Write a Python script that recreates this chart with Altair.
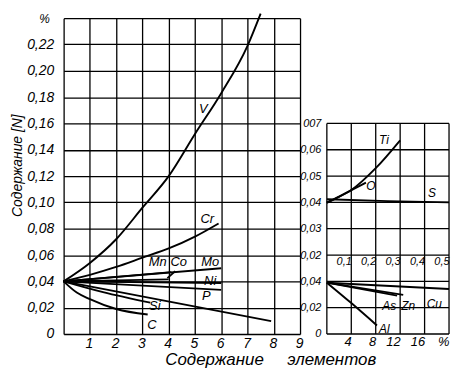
import altair as alt
import pandas as pd

FONT = "Liberation Sans"

# ---------------- left panel: N content vs element content (0-9 %) ----------------
V_x = [0, 1, 2, 3, 4, 5, 6, 7, 7.5]
V_y = [0.040, 0.054, 0.072, 0.096, 0.120, 0.152, 0.183, 0.219, 0.2435]
Cr_x = [0, 1, 2, 3, 4, 5, 5.9]
Cr_y = [0.040, 0.045, 0.051, 0.058, 0.065, 0.074, 0.084]
Mn_x = [0, 4.1]
Mn_y = [0.040, 0.047]
Co_x = [0, 4.0]
Co_y = [0.040, 0.0415]
Co_lead_x = [4.25, 3.95]
Co_lead_y = [0.0478, 0.0425]
Mo_x = [0, 6.0]
Mo_y = [0.040, 0.050]
Ni_x = [0, 6.0]
Ni_y = [0.040, 0.0388]
P_x = [0, 6.0]
P_y = [0.040, 0.0335]
Lin_x = [0, 7.9]
Lin_y = [0.040, 0.0098]
Si_x = [0, 1.5, 3.3]
Si_y = [0.040, 0.0318, 0.0238]
C_x = [0, 0.5, 1, 2, 3.2]
C_y = [0.040, 0.0315, 0.0265, 0.019, 0.0148]

left_lab_t = ["V", "Cr", "Mn", "Co", "Mo", "Ni", "P", "Si", "C"]
left_lab_x = [5.32, 5.47, 3.58, 4.38, 5.58, 5.58, 5.43, 3.47, 3.36]
left_lab_y = [0.1706, 0.0876, 0.0545, 0.0545, 0.0550, 0.0405, 0.0287, 0.0211, 0.0068]

left_x_ticks = [0, 1, 2, 3, 4, 5, 6, 7, 8, 9]
left_y_ticks = [0, 0.02, 0.04, 0.06, 0.08, 0.10, 0.12, 0.14, 0.16, 0.18, 0.20, 0.22, 0.24]
pct_x = [0]
pct_y = [0.24]
pct_t = ["%"]

# ---------------- right panel, upper part (0-0.5 %) ----------------
Ti_x = [0, 0.05, 0.1, 0.2, 0.3]
Ti_y = [0.040, 0.0421, 0.0447, 0.053, 0.0636]
O_x = [0, 0.16]
O_y = [0.0398, 0.0475]
S_x = [0, 0.25, 0.5]
S_y = [0.0412, 0.0405, 0.0400]
rt_lab_t = ["Ti", "O", "S"]
rt_lab_x = [0.234, 0.18, 0.43]
rt_lab_y = [0.0636, 0.0462, 0.0436]
rt_x_grid = [0, 0.1, 0.2, 0.3, 0.4, 0.5]
rt_y_grid = [-0.01, 0, 0.01, 0.02, 0.03, 0.04, 0.05, 0.06, 0.07]
rt_y_labels = [0.02, 0.03, 0.04, 0.05, 0.06, 0.07]
rt_x_labels = [0.1, 0.2, 0.3, 0.4, 0.5]

# ---------------- right panel, lower part (0-20 %) ----------------
Al_x = [0, 4, 8.2]
Al_y = [0.039, 0.0235, 0.0065]
As_x = [0, 11.5]
As_y = [0.039, 0.0292]
Zn_x = [0, 12.5]
Zn_y = [0.039, 0.0297]
Cu_x = [0, 20]
Cu_y = [0.039, 0.0342]
rb_lab_t = ["Al", "As", "Zn", "Cu"]
rb_lab_x = [9.4, 10.2, 13.3, 17.6]
rb_lab_y = [0.0038, 0.0211, 0.0211, 0.0226]
rb_y_labels = [0, 0.02, 0.04]
rb_x_labels = [4, 8, 12, 16, 20]


def lines_df(series):
    rows = []
    for name, xs, ys in series:
        for i, (xv, yv) in enumerate(zip(xs, ys)):
            rows.append({"el": name, "i": i, "x": xv, "y": yv})
    return pd.DataFrame(rows)


left_df = lines_df([
    ("V", V_x, V_y), ("Cr", Cr_x, Cr_y), ("Mn", Mn_x, Mn_y), ("Co", Co_x, Co_y),
    ("CoLead", Co_lead_x, Co_lead_y), ("Mo", Mo_x, Mo_y), ("Ni", Ni_x, Ni_y),
    ("P", P_x, P_y), ("Lin", Lin_x, Lin_y), ("Si", Si_x, Si_y), ("C", C_x, C_y),
])
left_lab_df = pd.DataFrame({"x": left_lab_x, "y": left_lab_y, "t": left_lab_t})
pct_df = pd.DataFrame({"x": pct_x, "y": pct_y, "t": pct_t})

rt_df = lines_df([("Ti", Ti_x, Ti_y), ("O", O_x, O_y), ("S", S_x, S_y)])
rt_lab_df = pd.DataFrame({"x": rt_lab_x, "y": rt_lab_y, "t": rt_lab_t})
rt_vgrid_df = pd.DataFrame({"x": rt_x_grid, "y": [rt_y_grid[0]] * len(rt_x_grid),
                            "y1": [rt_y_grid[-1]] * len(rt_x_grid)})
rt_hgrid_df = pd.DataFrame({"y": rt_y_grid, "x": [rt_x_grid[0]] * len(rt_y_grid),
                            "x1": [rt_x_grid[-1]] * len(rt_y_grid)})

rb_df = lines_df([("Al", Al_x, Al_y), ("As", As_x, As_y), ("Zn", Zn_x, Zn_y), ("Cu", Cu_x, Cu_y)])
rb_lab_df = pd.DataFrame({"x": rb_lab_x, "y": rb_lab_y, "t": rb_lab_t})

L_X = alt.Scale(domain=[0, 9], nice=False, zero=False)
L_Y = alt.Scale(domain=[0, 0.24], nice=False, zero=False)
RT_X = alt.Scale(domain=[0, 0.5], nice=False, zero=False)
RT_Y = alt.Scale(domain=[-0.01, 0.11], nice=False, zero=False)
RB_X = alt.Scale(domain=[0, 20], nice=False, zero=False)
RB_Y = alt.Scale(domain=[0, 0.24], nice=False, zero=False)

common_lab = dict(labelFont=FONT, labelFontStyle="italic", labelColor="black",
                  labelFlush=False, labelOverlap=False, ticks=False, domain=False)
grid_style = dict(grid=True, gridColor="black", gridWidth=1.3, gridOpacity=1)

left_x_axis = alt.Axis(values=left_x_ticks, **grid_style, **common_lab,
                       labelFontSize=14, labelPadding=3, labelOffset=-1,
                       labelExpr="datum.value == 0 ? '' : datum.label",
                       title="Содержание\u00a0\u00a0\u00a0\u00a0\u00a0элементов",
                       titleX=208, titleY=26, titleBaseline="middle", titleAlign="center",
                       titleFont=FONT, titleFontStyle="italic", titleFontWeight="normal",
                       titleFontSize=17, titleColor="black")
left_y_axis = alt.Axis(values=left_y_ticks, **grid_style, **common_lab,
                       labelFontSize=14, labelPadding=10,
                       labelExpr="datum.value > 0.23 ? '' : (datum.value == 0 ? '0' : replace(format(datum.value, '.2f'), '.', ','))",
                       title="Содержание [N]", titleX=-46, titleY=148, titleAngle=270,
                       titleBaseline="middle", titleAlign="center",
                       titleFont=FONT, titleFontStyle="italic", titleFontWeight="normal",
                       titleFontSize=14, titleColor="black")

LX = alt.X("x:Q", scale=L_X, axis=left_x_axis)
LY = alt.Y("y:Q", scale=L_Y, axis=left_y_axis)

left_lines = alt.Chart(left_df).mark_line(color="black", strokeWidth=1.9, interpolate="monotone").encode(
    x=LX, y=LY, detail="el:N", order="i:Q")
left_text = alt.Chart(left_lab_df).mark_text(font=FONT, fontStyle="italic", fontSize=13, color="black").encode(
    x=LX, y=LY, text="t:N")
pct_text = alt.Chart(pct_df).mark_text(font=FONT, fontStyle="italic", fontSize=12, color="black",
                                       align="right", baseline="middle", dx=-14, dy=1).encode(
    x=LX, y=LY, text="t:N")
left = alt.layer(left_lines, left_text, pct_text).properties(width=238, height=318)

rt_x_axis = alt.Axis(orient="bottom", offset=-79.5, values=rt_x_labels, grid=False, **common_lab,
                     labelFontSize=11, labelPadding=1, labelAlign="right",
                     labelExpr="replace(format(datum.value, '.1f'), '.', ',')", title=None)
rt_y_axis = alt.Axis(orient="left", values=rt_y_labels, grid=False, **common_lab,
                     labelFontSize=11, labelPadding=6,
                     labelExpr="datum.value > 0.065 ? '007' : replace(format(datum.value, '.2f'), '.', ',')",
                     title=None)
rb_x_axis = alt.Axis(orient="bottom", values=rb_x_labels, grid=False, **common_lab,
                     labelFontSize=13, labelPadding=2, labelAlign="right",
                     labelExpr="datum.value == 20 ? '%' : datum.label", title=None)
rb_y_axis = alt.Axis(orient="left", values=rb_y_labels, grid=False, **common_lab,
                     labelFontSize=11, labelPadding=6,
                     labelExpr="datum.value == 0 ? '0' : replace(format(datum.value, '.2f'), '.', ',')",
                     title=None)

RTX = alt.X("x:Q", scale=RT_X, axis=rt_x_axis)
RTY = alt.Y("y:Q", scale=RT_Y, axis=rt_y_axis)
RBX = alt.X("x:Q", scale=RB_X, axis=rb_x_axis)
RBY = alt.Y("y:Q", scale=RB_Y, axis=rb_y_axis)

rt_vgrid = alt.Chart(rt_vgrid_df).mark_rule(color="black", strokeWidth=1.3).encode(
    x=RTX, y=RTY, y2="y1:Q")
rt_hgrid = alt.Chart(rt_hgrid_df).mark_rule(color="black", strokeWidth=1.3).encode(
    x=RTX, x2="x1:Q", y=RTY)
rt_lines = alt.Chart(rt_df).mark_line(color="black", strokeWidth=1.9, interpolate="monotone").encode(
    x=RTX, y=RTY, detail="el:N", order="i:Q")
rt_text = alt.Chart(rt_lab_df).mark_text(font=FONT, fontStyle="italic", fontSize=12, color="black").encode(
    x=RTX, y=RTY, text="t:N")
top_layer = alt.layer(rt_vgrid, rt_hgrid, rt_lines, rt_text)

rb_lines = alt.Chart(rb_df).mark_line(color="black", strokeWidth=1.9, interpolate="monotone").encode(
    x=RBX, y=RBY, detail="el:N", order="i:Q")
rb_text = alt.Chart(rb_lab_df).mark_text(font=FONT, fontStyle="italic", fontSize=12, color="black").encode(
    x=RBX, y=RBY, text="t:N")
bottom_layer = alt.layer(rb_lines, rb_text)

right = alt.layer(top_layer, bottom_layer).resolve_scale(
    x="independent", y="independent").resolve_axis(x="independent", y="independent").properties(
    width=123, height=318)

chart = alt.hconcat(left, right, spacing=27, bounds="flush").properties(
    padding={"left": 3, "top": 0, "right": 0, "bottom": 0}
).configure(font=FONT).configure_view(stroke=None)

chart.save("out.html", embed_options={"renderer": "svg", "actions": False})
